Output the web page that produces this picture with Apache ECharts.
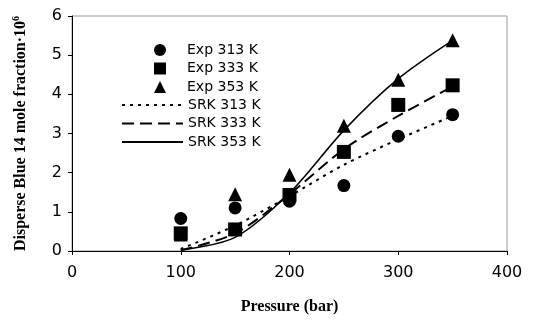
<!DOCTYPE html>
<html><head><meta charset="utf-8">
<script src="https://cdn.jsdelivr.net/npm/echarts@6/dist/echarts.min.js"></script>
<style>html,body{margin:0;padding:0;background:#fff}#c{width:542px;height:320px}</style>
</head><body><div id="c"></div>
<script>
var pressure = [100, 150, 200, 250, 300, 350];
var exp313 = [0.83, 1.10, 1.27, 1.67, 2.93, 3.48];
var exp333 = [0.45, 0.55, 1.43, 2.53, 3.73, 4.23];
var exp353 = [0.42, 1.45, 1.95, 3.20, 4.37, 5.38];
var srk313 = [0.05, 0.65, 1.40, 2.20, 2.85, 3.45];
var srk333 = [0.02, 0.45, 1.45, 2.60, 3.45, 4.20];
var srk353 = [0.02, 0.35, 1.48, 3.08, 4.40, 5.38];
var xTicks = [0, 100, 200, 300, 400];
var yTicks = [0, 1, 2, 3, 4, 5, 6];

function pairs(ys){ return pressure.map(function(p,i){ return [p, ys[i]]; }); }

var chart = echarts.init(document.getElementById('c'));
var lbl = {fontFamily:'DejaVu Sans', fontSize:16, color:'#000'};
var legText = {fontFamily:'DejaVu Sans', fontSize:14, color:'#000'};
chart.setOption({
  animation:false,
  grid:{left:72, right:35, top:16, bottom:69, show:true, borderColor:'#999', borderWidth:1},
  legend:[{
    left:149, top:38, orient:'vertical', itemWidth:12, itemHeight:12, itemGap:4.5,
    textStyle:Object.assign({padding:[0,0,0,16]}, legText),
    data:['Exp 313 K','Exp 333 K','Exp 353 K']
  },{
    left:116, top:93, orient:'vertical', itemWidth:61, itemHeight:14, itemGap:4.5,
    itemStyle:{color:'transparent', borderWidth:0},
    textStyle:legText,
    data:['SRK 313 K','SRK 333 K','SRK 353 K']
  }],
  xAxis:{
    type:'value', min:xTicks[0], max:xTicks[xTicks.length-1], interval:100,
    name:'Pressure (bar)', nameLocation:'middle', nameGap:48,
    nameTextStyle:{fontFamily:'Liberation Serif', fontWeight:'bold', fontSize:16, color:'#000'},
    axisLine:{lineStyle:{color:'#000', width:1}},
    axisTick:{show:true, length:4, lineStyle:{color:'#000'}},
    axisLabel:Object.assign({margin:14}, lbl),
    splitLine:{show:false}
  },
  yAxis:{
    type:'value', min:yTicks[0], max:yTicks[yTicks.length-1], interval:1,
    name:'{a|Disperse Blue 14 mole fraction·10}{s|6}', nameLocation:'middle', nameGap:42,
    nameTextStyle:{
      rich:{
        a:{fontFamily:'Liberation Serif', fontWeight:'bold', fontSize:16, color:'#000'},
        s:{fontFamily:'Liberation Serif', fontWeight:'bold', fontSize:10, color:'#000', padding:[0,0,9,0]}
      }
    },
    axisLine:{show:true, lineStyle:{color:'#000', width:1}},
    axisTick:{show:true, length:4, lineStyle:{color:'#000'}},
    axisLabel:Object.assign({margin:10}, lbl),
    splitLine:{show:false}
  },
  series:[
    {name:'SRK 313 K', type:'line', data:pairs(srk313), smooth:0.3, symbol:'none', lineStyle:{color:'#000', width:2, type:[3,5]}, itemStyle:{color:'#000'}, z:2},
    {name:'SRK 333 K', type:'line', data:pairs(srk333), smooth:0.3, symbol:'none', lineStyle:{color:'#000', width:2, type:[12,6]}, itemStyle:{color:'#000'}, z:2},
    {name:'SRK 353 K', type:'line', data:pairs(srk353), smooth:0.3, symbol:'none', lineStyle:{color:'#000', width:1.5, type:'solid'}, itemStyle:{color:'#000'}, z:2},
    {name:'Exp 313 K', type:'scatter', data:pairs(exp313), symbol:'circle', symbolSize:13, itemStyle:{color:'#000', opacity:1}, z:3},
    {name:'Exp 333 K', type:'scatter', data:pairs(exp333), symbol:'rect', symbolSize:14, itemStyle:{color:'#000', opacity:1}, z:3},
    {name:'Exp 353 K', type:'scatter', data:pairs(exp353), symbol:'triangle', symbolSize:14, itemStyle:{color:'#000', opacity:1}, z:3}
  ]
});
</script></body></html>
